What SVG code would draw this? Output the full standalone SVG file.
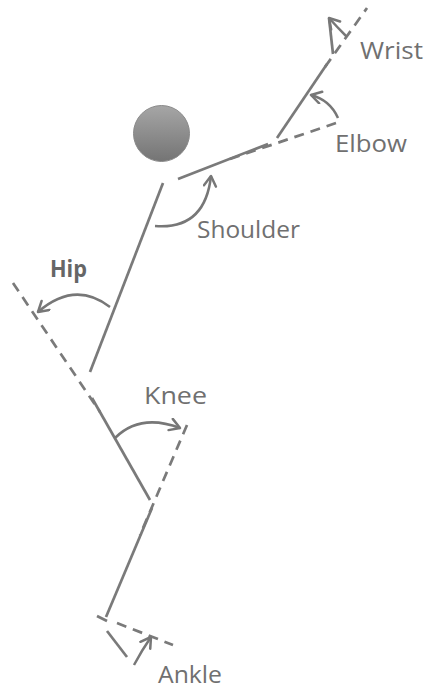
<svg xmlns="http://www.w3.org/2000/svg" width="430" height="693" viewBox="0 0 430 693">
<defs>
<linearGradient id="headGrad" x1="0" y1="0" x2="0" y2="1">
<stop offset="0" stop-color="#a6a6a6"/>
<stop offset="1" stop-color="#747474"/>
</linearGradient>
<marker id="arr" markerUnits="userSpaceOnUse" markerWidth="16" markerHeight="16" refX="12" refY="7" orient="auto">
<path d="M2,1 L12,7 L2,13" fill="none" stroke="#777" stroke-width="2.5" stroke-linecap="round" stroke-linejoin="round"/>
</marker>
</defs>
<style>
.seg{stroke:#7a7a7a;stroke-width:2.7;fill:none;stroke-linecap:butt}
.dash{stroke:#7a7a7a;stroke-width:2.7;fill:none;stroke-dasharray:10 7}
.arc{stroke:#777;stroke-width:2.5;fill:none;marker-end:url(#arr)}
.lbl{font-family:"Open Sans","Liberation Sans",sans-serif;font-size:23px;font-weight:500;fill:#707070}
.bold{font-weight:bold;fill:#666}
</style>
<g id="head">
<circle cx="161.5" cy="133.5" r="28" fill="url(#headGrad)" stroke="#8a8a8a" stroke-width="1"/>
</g>
<g id="connectors">
<line class="seg" x1="163" y1="183" x2="90" y2="372"/>
<line class="seg" x1="178" y1="179" x2="268" y2="144"/>
<line class="seg" x1="277" y1="138" x2="327" y2="64"/>
<line class="seg" x1="333" y1="54" x2="329" y2="18"/>
<line class="seg" x1="92" y1="398" x2="150" y2="500"/>
<line class="seg" x1="152" y1="508" x2="106" y2="617"/>
<line class="seg" x1="97" y1="616" x2="107" y2="621"/>
<line class="seg" x1="107" y1="631" x2="127" y2="657"/>
<line class="dash" x1="230" y1="159" x2="336" y2="123"/>
<line class="dash" x1="325" y1="67" x2="367" y2="8"/>
<line class="dash" x1="13" y1="283" x2="100" y2="412"/>
<line class="dash" x1="187" y1="425" x2="140" y2="535"/>
<line class="dash" x1="117" y1="623" x2="173" y2="645"/>
<path class="arc" d="M347,37 Q337,27 329,18"/>
<path class="arc" d="M338,118 Q330,100 311,95"/>
<path class="arc" d="M155,226 Q205,230 211,176"/>
<path class="arc" d="M110,307 Q75,280 38,312"/>
<path class="arc" d="M115,438 Q140,413 180,428"/>
<path class="arc" d="M134,665 Q142,650 151,637"/>
</g>
<g id="wrist"><text class="lbl" x="360" y="59" textLength="63" lengthAdjust="spacingAndGlyphs">Wrist</text></g>
<g id="elbow"><text class="lbl" x="335" y="152" textLength="72" lengthAdjust="spacingAndGlyphs">Elbow</text></g>
<g id="shoulder"><text class="lbl" x="197" y="238" textLength="103" lengthAdjust="spacingAndGlyphs">Shoulder</text></g>
<g id="hip"><text class="lbl bold" x="50" y="277" textLength="37" lengthAdjust="spacingAndGlyphs">Hip</text></g>
<g id="knee"><text class="lbl" x="144" y="404" textLength="63" lengthAdjust="spacingAndGlyphs">Knee</text></g>
<g id="ankle"><text class="lbl" x="158" y="683" textLength="64" lengthAdjust="spacingAndGlyphs">Ankle</text></g>
</svg>
